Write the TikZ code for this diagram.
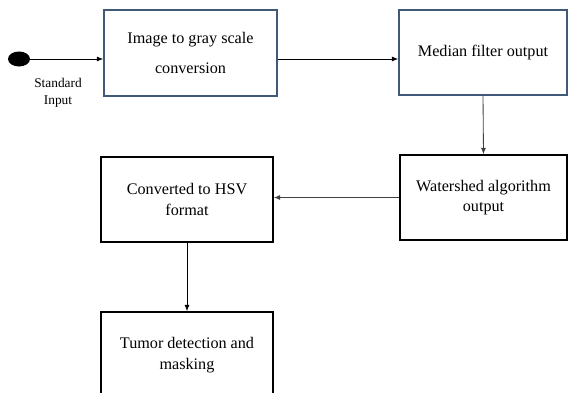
\documentclass[tikz,border=0pt]{standalone}
\usepackage{fontspec}
\setmainfont{Liberation Serif}
\usetikzlibrary{arrows.meta,shapes.geometric}
\definecolor{boxblue}{RGB}{66,88,120}
\begin{document}
\begin{tikzpicture}[x=0.25mm,y=-0.25mm,
    stage/.style={rectangle,draw,line width=1pt,align=center,
      font=\fontsize{11.5}{14.5}\selectfont,inner sep=0pt},
    link/.style={-{Latex[length=4.5pt,width=3.5pt]},line width=0.6pt}]
  \useasboundingbox (0,0) rectangle (568,392);

  \node[ellipse,fill=black,minimum width=5.5mm,minimum height=3.75mm,inner sep=0pt] (start) at (19,59) {};
  \node[align=center,font=\fontsize{9.5}{12}\selectfont] (startlbl) at (58,93) {Standard\\Input};

  \node[stage,draw=boxblue,minimum width=43.25mm,minimum height=21.5mm,
    font=\fontsize{11.5}{21}\selectfont] (gray) at (190.5,53) {Image to gray scale\\conversion};
  \node[stage,draw=boxblue,minimum width=42mm,minimum height=21.25mm] (median) at (483,52.5) {Median filter output};
  \node[stage,minimum width=41.75mm,minimum height=21.25mm] (watershed) at (483.5,197.5) {Watershed algorithm\\output};
  \node[stage,minimum width=43mm,minimum height=21.25mm] (hsv) at (187,199.5) {Converted to HSV\\format};
  \node[stage,minimum width=43mm,minimum height=21.5mm] (tumor) at (187,355) {Tumor detection and\\masking};

  \draw[link] (start.east) -- (start.east -| gray.west);
  \draw[link] (gray.east |- start) -- (median.west |- start);
  \draw[link,draw=black!75] (median.south) -- (watershed.north);
  \draw[link,draw=black!75] (watershed.west) -- (watershed.west -| hsv.east);
  \draw[link] (hsv.south) -- (tumor.north);
\end{tikzpicture}
\end{document}
